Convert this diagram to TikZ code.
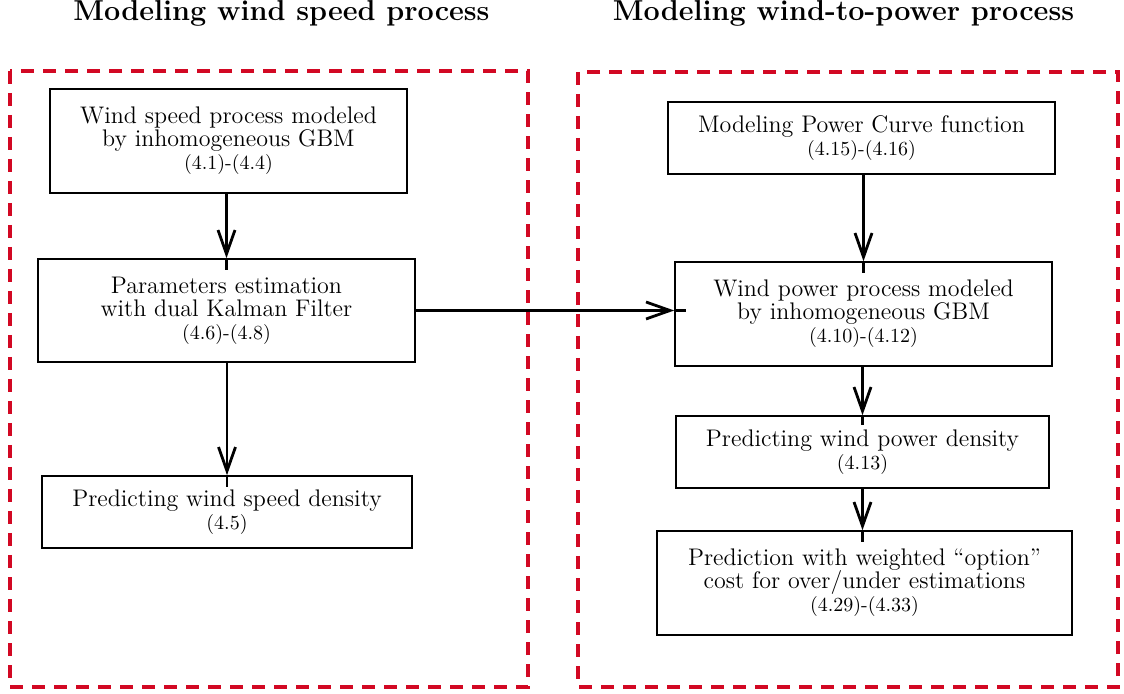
\documentclass[tikz,border=0pt]{standalone}
\usetikzlibrary{arrows.meta}
\definecolor{dashred}{RGB}{210,8,35}
\begin{document}
\begin{tikzpicture}[x=0.5pt,y=-0.5pt,
  box/.style={draw, line width=0.8pt, inner sep=0pt, align=center,
    font=\fontsize{12}{11.5}\selectfont},
  ttl/.style={anchor=base, font=\fontsize{14.4}{17}\selectfont\bfseries},
  frame/.style={draw=dashred, line width=2pt, dash pattern=on 6.5pt off 4.5pt},
  conn/.style={line width=1.4pt, -{Straight Barb[length=12pt,width=8.5pt]}},
  spike/.style={line width=1.2pt, line cap=butt}]
\useasboundingbox (0,0) rectangle (1124,694);
\newcommand{\eqref}[1]{\\{\fontsize{10}{11.5}\selectfont #1}}
% titles
\node[ttl] (t1) at (281.5,21) {Modeling wind speed process};
\node[ttl] (t2) at (843.5,21) {Modeling wind-to-power process};
% frames
\draw[frame] (10,71) rectangle (528,687);
\draw[frame] (578,72) rectangle (1118,687);
% left boxes
\node[box, minimum width=178.5pt, minimum height=52pt] (b1) at (228.5,141)
  {Wind speed process modeled\\by inhomogeneous GBM\eqref{(4.1)-(4.4)}};
\node[box, minimum width=188.5pt, minimum height=51.5pt] (b2) at (226.5,310.5)
  {Parameters estimation\\with dual Kalman Filter\eqref{(4.6)-(4.8)}};
\node[box, minimum width=185pt, minimum height=36pt] (b3) at (227,512)
  {Predicting wind speed density\eqref{(4.5)}};
% right boxes
\node[box, minimum width=193.5pt, minimum height=36pt] (ra) at (861.5,138)
  {Modeling Power Curve function\eqref{(4.15)-(4.16)}};
\node[box, minimum width=188.5pt, minimum height=52pt] (rb) at (863.5,314)
  {Wind power process modeled\\by inhomogeneous GBM\eqref{(4.10)-(4.12)}};
\node[box, minimum width=186.5pt, minimum height=36pt] (rc) at (862.5,452)
  {Predicting wind power density\eqref{(4.13)}};
\node[box, minimum width=207.5pt, minimum height=52pt] (rd) at (864.5,583)
  {Prediction with weighted ``option''\\cost for over/under estimations\eqref{(4.29)-(4.33)}};
% connectors
\draw[conn] (b2.north |- b1.south) -- (b2.north);
\draw[spike] (b2.north) -- ++(0,12);
\draw[conn] (b3.north |- b2.south) -- (b3.north);
\draw[spike] (b3.north) -- ++(0,12);
\draw[conn] (b2.east) -- (b2.east -| rb.west);
\draw[spike] (b2.east -| rb.west) -- ++(12,0);
\draw[conn] (rb.north |- ra.south) -- (rb.north);
\draw[spike] (rb.north) -- ++(0,12);
\draw[conn] (rc.north |- rb.south) -- (rc.north);
\draw[spike] (rc.north) -- ++(0,10);
\draw[conn] (rc.south) -- (rc.south |- rd.north);
\draw[spike] (rc.south |- rd.north) -- ++(0,12);
\end{tikzpicture}
\end{document}
